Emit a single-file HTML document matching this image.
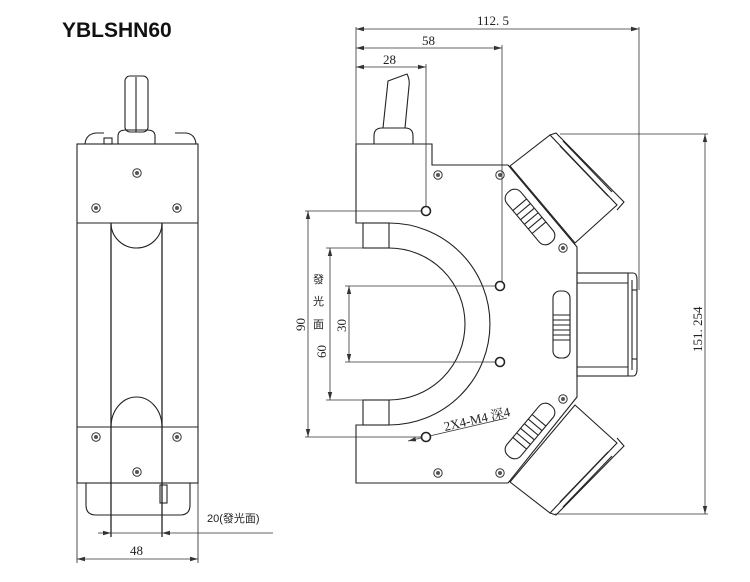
<!DOCTYPE html>
<html><head><meta charset="utf-8"><style>
html,body{margin:0;padding:0;background:#fff;}
svg{display:block;}
.t{font-family:"Liberation Serif","Noto Serif CJK SC",serif;font-size:13px;fill:#222;}
.c{font-family:"Liberation Sans","Noto Sans CJK SC",sans-serif;font-size:11px;fill:#222;}
</style></head><body>
<svg width="750" height="582" viewBox="0 0 750 582" xmlns="http://www.w3.org/2000/svg">
<defs>
<marker id="ar" markerWidth="8" markerHeight="6" refX="8" refY="3" orient="auto-start-reverse" markerUnits="userSpaceOnUse">
<path d="M0,0.8 L8,3 L0,5.2 Z" fill="#333"/></marker>
<g id="scr"><circle r="4.2" fill="#fff" stroke="#333" stroke-width="1"/><circle r="2" fill="#555"/></g>
<g id="hole"><circle r="4.5" fill="#fff" stroke="#222" stroke-width="1.6"/></g>
</defs>
<text x="62" y="37" font-family="Liberation Sans, sans-serif" font-size="21" font-weight="bold" fill="#111">YBLSHN60</text>

<!-- LEFT VIEW -->
<g fill="none" stroke="#222" stroke-width="1.1">
<rect x="125" y="76" width="23" height="56" rx="5"/>
<line x1="136" y1="77" x2="136" y2="132"/>
<path d="M118,144 V136 Q118,130 126,130 H147 Q155,130 155,136 V144"/>
<path d="M85,144 Q86,134 96,133 H104 M175,133 H186 Q195,134 196,144"/>
<rect x="104" y="138" width="8" height="6"/>
<rect x="77" y="144" width="121" height="339"/>
<line x1="77" y1="223" x2="198" y2="223"/>
<line x1="77" y1="427" x2="198" y2="427"/>
<line x1="111" y1="223" x2="111" y2="537" stroke-width="1.3"/>
<line x1="162" y1="223" x2="162" y2="537" stroke-width="1.3"/>
<path d="M111,223 A25.5,25 0 0 0 162,223"/>
<path d="M111,427 A25.5,30 0 0 1 162,427"/>
<path d="M86,483 V505 Q86,515 96,515 H180 Q190,515 190,505 V483"/>
<rect x="160" y="485" width="7" height="18"/>
<line x1="77" y1="483" x2="77" y2="563" stroke-width="0.8"/>
<line x1="198" y1="483" x2="198" y2="563" stroke-width="0.8"/>
</g>
<use href="#scr" x="137" y="173"/><use href="#scr" x="96" y="208"/><use href="#scr" x="177" y="208"/>
<use href="#scr" x="96" y="437"/><use href="#scr" x="177" y="437"/><use href="#scr" x="137" y="472"/>
<g stroke="#333" stroke-width="0.8" fill="none">
<line x1="98" y1="533" x2="111" y2="533" marker-end="url(#ar)"/>
<line x1="111" y1="533" x2="162" y2="533"/>
<line x1="273" y1="533" x2="162" y2="533" marker-end="url(#ar)"/>
<line x1="77" y1="559" x2="198" y2="559" marker-start="url(#ar)" marker-end="url(#ar)"/>
</g>
<text x="207" y="522" class="c" font-size="12">20(發光面)</text>
<text x="130" y="555" class="t">48</text>

<!-- RIGHT VIEW body -->
<g fill="none" stroke="#222" stroke-width="1.1">
<path d="M388,81 L407,74 Q410,80 409,86 L405,128 L383,128 Z"/>
<path d="M374,144 V136 Q374,128 382,128 H405 Q413,128 413,136 V144"/>
<path d="M356,144 H432 V165 H508 L577,247 V397 L508,483 H356 V425 H389 A101,101 0 0 0 389,223 H356 Z"/>
<path d="M389,400 A76,76 0 0 0 389,248"/>
<rect x="363" y="223" width="26" height="25"/>
<rect x="363" y="400" width="26" height="25"/>
<rect x="577" y="273" width="51" height="103"/>
<line x1="577" y1="283" x2="628" y2="283"/>
<line x1="577" y1="367" x2="628" y2="367"/>
<path d="M628,273 H633 Q637,273 637,280 V369 Q637,376 633,376 H628"/>
<line x1="632" y1="290" x2="637" y2="290"/><line x1="632" y1="359" x2="637" y2="359"/>
<line x1="632" y1="280" x2="632" y2="370"/>
<rect x="553" y="291" width="17" height="67" rx="7"/>
<g stroke-width="0.9"><line x1="553" y1="315" x2="570" y2="315"/><line x1="553" y1="320" x2="570" y2="320"/><line x1="553" y1="325" x2="570" y2="325"/><line x1="553" y1="330" x2="570" y2="330"/><line x1="553" y1="335" x2="570" y2="335"/><line x1="553" y1="340" x2="570" y2="340"/></g>
<g id="mot">
<path d="M510,166 L550,135 L617,205 L575,243 Z"/>
<path d="M550,135 L556,133 L624,202 L617,210"/>
<line x1="560" y1="146" x2="608" y2="196"/>
<line x1="563" y1="141" x2="612" y2="192"/>
<g transform="translate(530,217) rotate(50)">
<rect x="-33" y="-9" width="66" height="18" rx="8"/>
<line x1="-16" y1="-9" x2="-16" y2="9"/><line x1="-10" y1="-9" x2="-10" y2="9"/><line x1="-4" y1="-9" x2="-4" y2="9"/><line x1="2" y1="-9" x2="2" y2="9"/><line x1="8" y1="-9" x2="8" y2="9"/><line x1="14" y1="-9" x2="14" y2="9"/>
</g>
</g>
<use href="#mot" transform="translate(0,648) scale(1,-1)"/>
</g>
<use href="#scr" x="438" y="175"/><use href="#scr" x="500" y="175"/><use href="#scr" x="563" y="248"/>
<use href="#scr" x="563" y="399"/><use href="#scr" x="438" y="473"/><use href="#scr" x="500" y="473"/>

<g stroke="#333" stroke-width="0.8" fill="none">
<line x1="356" y1="27" x2="356" y2="144"/>
<line x1="639" y1="27" x2="639" y2="290"/>
<line x1="502" y1="45" x2="502" y2="282"/>
<line x1="426" y1="64" x2="426" y2="206"/>
<line x1="356" y1="29" x2="639" y2="29" marker-start="url(#ar)" marker-end="url(#ar)"/>
<line x1="356" y1="48" x2="502" y2="48" marker-start="url(#ar)" marker-end="url(#ar)"/>
<line x1="356" y1="67" x2="426" y2="67" marker-start="url(#ar)" marker-end="url(#ar)"/>
<line x1="305" y1="211" x2="421" y2="211"/>
<line x1="326" y1="248" x2="363" y2="248"/>
<line x1="345" y1="286" x2="495" y2="286"/>
<line x1="345" y1="362" x2="495" y2="362"/>
<line x1="326" y1="400" x2="363" y2="400"/>
<line x1="305" y1="437" x2="421" y2="437"/>
<line x1="308" y1="211" x2="308" y2="437" marker-start="url(#ar)" marker-end="url(#ar)"/>
<line x1="330" y1="248" x2="330" y2="400" marker-start="url(#ar)" marker-end="url(#ar)"/>
<line x1="349" y1="286" x2="349" y2="362" marker-start="url(#ar)" marker-end="url(#ar)"/>
<line x1="560" y1="134" x2="708" y2="134"/>
<line x1="555" y1="514" x2="708" y2="514"/>
<line x1="705" y1="134" x2="705" y2="514" marker-start="url(#ar)" marker-end="url(#ar)"/>
<line x1="507" y1="418" x2="408" y2="441" marker-end="url(#ar)"/>
</g>
<use href="#hole" x="426" y="211"/><use href="#hole" x="500" y="286"/>
<use href="#hole" x="500" y="362"/><use href="#hole" x="426" y="437"/>

<text x="477" y="25" class="t">112. 5</text>
<text x="422" y="45" class="t">58</text>
<text x="383" y="64" class="t">28</text>
<text class="t" transform="translate(305,331) rotate(-90)">90</text>
<text class="t" transform="translate(326,358) rotate(-90)">60</text>
<text class="t" transform="translate(346,332) rotate(-90)">30</text>
<text class="t" transform="translate(702,352) rotate(-90)">151. 254</text>
<text class="c" x="313" y="283">發</text>
<text class="c" x="313" y="305">光</text>
<text class="c" x="313" y="328">面</text>
<text class="t" font-size="11" transform="translate(445,431) rotate(-13)">2X4-M4  深4</text>
</svg>
</body></html>
